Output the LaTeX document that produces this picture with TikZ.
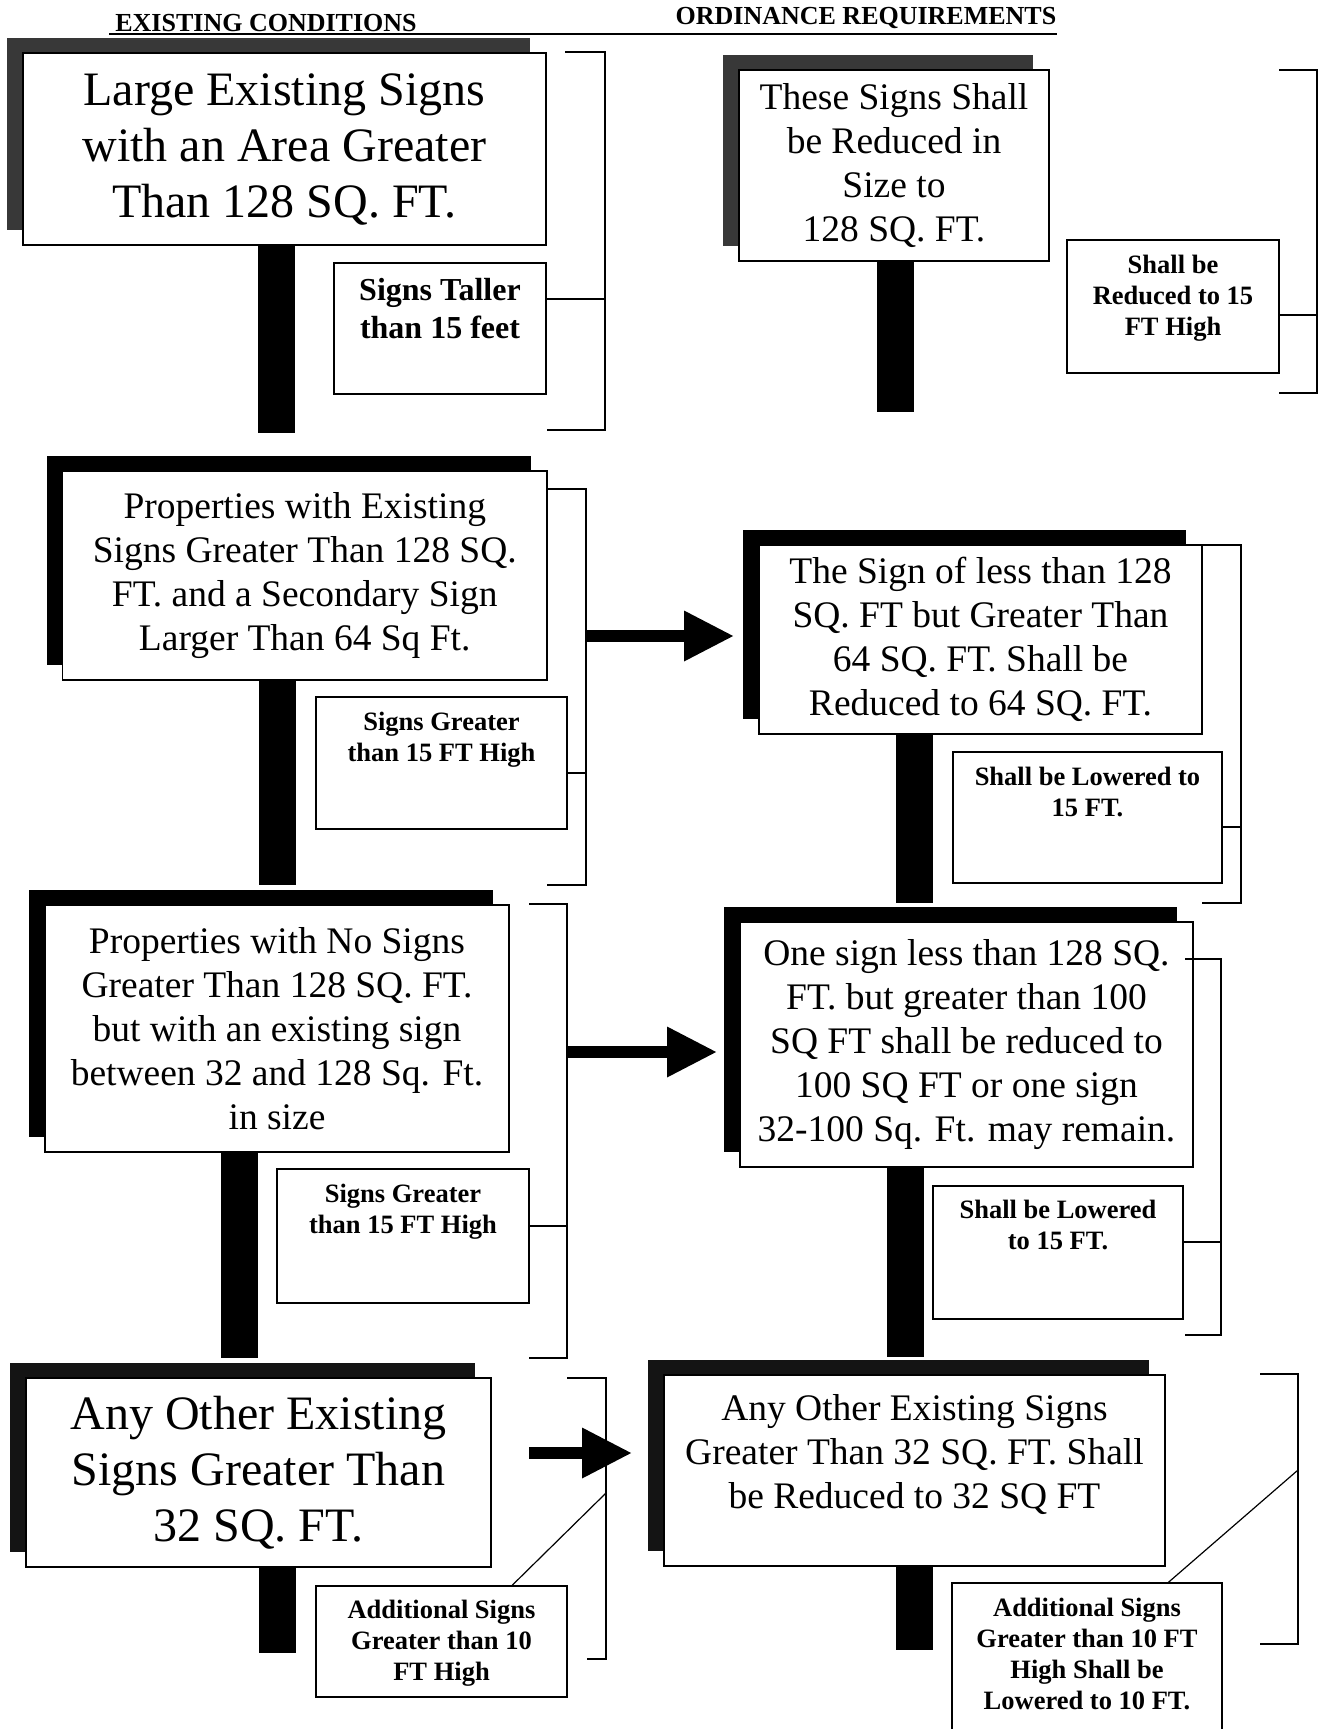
\documentclass[tikz,border=0pt]{standalone}
\usepackage{fontspec}
\setmainfont{Liberation Serif}
\usetikzlibrary{arrows.meta,calc,positioning,shadows}

\begin{document}
\begin{tikzpicture}[x=1pt, y=-1pt,
    sign/.style={draw, line width=1.6pt, fill=white, align=center, inner sep=0pt},
    greyshade/.style={general shadow={fill=black!78, shadow xshift=-16pt, shadow yshift=15pt}},
    darkshade/.style={general shadow={fill=black!92, shadow xshift=-16pt, shadow yshift=15pt}},
    blackshade/.style={general shadow={fill=black, shadow xshift=-16pt, shadow yshift=15pt}},
    bigtext/.style={font=\fontsize{48}{56}\selectfont},
    midtext/.style={font=\fontsize{37.5}{44}\selectfont},
    post/.style={fill=black, inner sep=0pt, minimum width=37pt, anchor=north},
    tag/.style={draw, line width=1.4pt, fill=white, inner sep=0pt},
    tagtext/.style={font=\fontsize{26.5}{31}\selectfont\bfseries, align=center, inner sep=0pt},
    head/.style={font=\fontsize{26}{30}\selectfont\bfseries, inner sep=0pt},
    brk/.style={line width=1.2pt},
    bigarrow/.style={line width=12pt, -{Triangle[length=50pt, width=47pt]}}]

    \useasboundingbox[fill=white] (0,0) rectangle (1324,1729);
    \clip (0,0) rectangle (1324,1729);

    % headings
    \node[head] (hdex) at (266,23) {EXISTING CONDITIONS};
    \node[head] (hdor) at (866,18) {ORDINANCE REQUIREMENTS};
    \coordinate (hdl) at (109,34);
    \draw[brk] (hdl) -- (hdl -| hdor.east);

    % row 1
    \node[post, minimum height=188pt] (a1p) at (276,245) {};
    \node[sign, greyshade, bigtext, minimum width=523pt, minimum height=192pt] (a1) at (284.5,149) {Large Existing Signs\\with an Area Greater\\Than 128 SQ. FT.};
    \node[tag, minimum width=212pt, minimum height=131pt] (a1t) at (440,328.5) {};
    \node[tagtext, font=\fontsize{32}{37.5}\selectfont\bfseries, below=16pt of a1t.north] (a1tx) {Signs Taller\\than 15 feet};

    \node[post, minimum height=151pt] (b1p) at (895,261) {};
    \node[sign, greyshade, midtext, minimum width=310pt, minimum height=191pt] (b1) at (894,165.5) {These Signs Shall\\be Reduced in\\Size to\\128 SQ. FT.};
    \node[tag, minimum width=212pt, minimum height=133pt] (b1t) at (1173,306.5) {};
    \node[tagtext, below=16pt of b1t.north] (b1tx) {Shall be\\Reduced to 15\\FT High};

    % row 2
    \node[post, minimum height=205pt] (a2p) at (277.5,680) {};
    \node[sign, blackshade, midtext, minimum width=484.5pt, minimum height=209pt] (a2) at (304.75,575.5) {Properties with Existing\\Signs Greater Than 128 SQ.\\FT. and a Secondary Sign\\Larger Than 64 Sq Ft.};
    \node[tag, minimum width=251pt, minimum height=132pt] (a2t) at (441.5,763) {};
    \node[tagtext, below=16pt of a2t.north] (a2tx) {Signs Greater\\than 15 FT High};

    \node[post, minimum height=169pt] (b2p) at (914,734) {};
    \node[sign, blackshade, midtext, minimum width=443pt, minimum height=189pt] (b2) at (980.5,639.5) {The Sign of less than 128\\SQ. FT but Greater Than\\64 SQ. FT. Shall be\\Reduced to 64 SQ. FT.};
    \node[tag, minimum width=269pt, minimum height=131pt] (b2t) at (1087.5,817.5) {};
    \node[tagtext, below=16pt of b2t.north] (b2tx) {Shall be Lowered to\\15 FT.};

    % row 3
    \node[post, minimum height=206pt] (a3p) at (239.5,1152) {};
    \node[sign, blackshade, midtext, minimum width=464pt, minimum height=247pt] (a3) at (277,1028.5) {Properties with No Signs\\Greater Than 128 SQ. FT.\\but with an existing sign\\between 32 and 128 Sq. Ft.\\in size};
    \node[tag, minimum width=252pt, minimum height=134pt] (a3t) at (403,1236) {};
    \node[tagtext, below=16pt of a3t.north] (a3tx) {Signs Greater\\than 15 FT High};

    \node[post, minimum height=190pt] (b3p) at (905,1167) {};
    \node[sign, blackshade, midtext, minimum width=453pt, minimum height=245pt] (b3) at (966.5,1044.5) {One sign less than 128 SQ.\\FT. but greater than 100\\SQ FT shall be reduced to\\100 SQ FT or one sign\\32-100 Sq. Ft. may remain.};
    \node[tag, minimum width=250pt, minimum height=133pt] (b3t) at (1058,1252.5) {};
    \node[tagtext, below=15pt of b3t.north] (b3tx) {Shall be Lowered\\to 15 FT.};

    % row 4
    \node[post, minimum height=86pt] (a4p) at (277.5,1567) {};
    \node[sign, darkshade, bigtext, minimum width=465pt, minimum height=189pt] (a4) at (258.5,1472.5) {Any Other Existing\\Signs Greater Than\\32 SQ. FT.};
    \node[tag, minimum width=251pt, minimum height=111pt] (a4t) at (441.5,1641.5) {};
    \node[tagtext, below=15pt of a4t.north] (a4tx) {Additional Signs\\Greater than 10\\FT High};

    \node[post, minimum height=84pt] (b4p) at (914.5,1566) {};
    \node[sign, darkshade, midtext, minimum width=501pt, minimum height=191pt] (b4) at (914.5,1470.5) {Any Other Existing Signs\\Greater Than 32 SQ. FT. Shall\\be Reduced to 32 SQ FT\\[-6pt]\mbox{}};
    \node[tag, minimum width=270pt, minimum height=162pt] (b4t) at (1087,1664) {};
    \node[tagtext, below=16pt of b4t.north] (b4tx) {Additional Signs\\Greater than 10 FT\\High Shall be\\Lowered to 10 FT.};

    % brackets
    \coordinate (a1k) at (565,52);   \coordinate (a1kb) at (547,430);   \coordinate (a1km) at (605,299);
    \coordinate (b1k) at (1279,70);  \coordinate (b1kb) at (1279,393);  \coordinate (b1km) at (1317,315);
    \coordinate (a2k) at (547,489);  \coordinate (a2kb) at (547,885);   \coordinate (a2km) at (586,773);
    \coordinate (b2k) at (1202,545); \coordinate (b2kb) at (1202,903);  \coordinate (b2km) at (1241,827);
    \coordinate (a3k) at (529,904);  \coordinate (a3kb) at (529,1358);  \coordinate (a3km) at (567,1226);
    \coordinate (b3k) at (1185,959); \coordinate (b3kb) at (1185,1335); \coordinate (b3km) at (1221,1242);
    \coordinate (a4k) at (567,1378); \coordinate (a4kb) at (587,1659);  \coordinate (a4km) at (606,1493);
    \coordinate (b4k) at (1260,1374); \coordinate (b4kb) at (1260,1644); \coordinate (b4km) at (1298,1470);

    \draw[brk] (a1k) -| (a1km) |- (a1kb);
    \draw[brk] (a1km) -- (a1km -| a1t.east);
    \draw[brk] (b1k) -| (b1km) |- (b1kb);
    \draw[brk] (b1km) -- (b1km -| b1t.east);
    \draw[brk] (a2k) -| (a2km) |- (a2kb);
    \draw[brk] (a2km) -- (a2km -| a2t.east);
    \draw[brk] (b2k) -| (b2km) |- (b2kb);
    \draw[brk] (b2km) -- (b2km -| b2t.east);
    \draw[brk] (a3k) -| (a3km) |- (a3kb);
    \draw[brk] (a3km) -- (a3km -| a3t.east);
    \draw[brk] (b3k) -| (b3km) |- (b3kb);
    \draw[brk] (b3km) -- (b3km -| b3t.east);
    \draw[brk] (a4k) -| (a4km) |- (a4kb);
    \draw[brk] (a4km) -- ($(a4t.north west)!.78!(a4t.north east)$);
    \draw[brk] (b4k) -| (b4km) |- (b4kb);
    \draw[brk] (b4km) -- ($(b4t.north west)!.8!(b4t.north east)$);

    % arrows
    \coordinate (a2a) at (586,636);
    \coordinate (a3a) at (567,1052);
    \coordinate (a4a) at (529,1453);
    \draw[bigarrow] (a2a) -- ($(b2.west |- a2a)+(-24,0)$);
    \draw[bigarrow] (a3a) -- ($(b3.west |- a3a)+(-22,0)$);
    \draw[bigarrow] (a4a) -- ($(b4.west |- a4a)+(-31,0)$);

\end{tikzpicture}
\end{document}
